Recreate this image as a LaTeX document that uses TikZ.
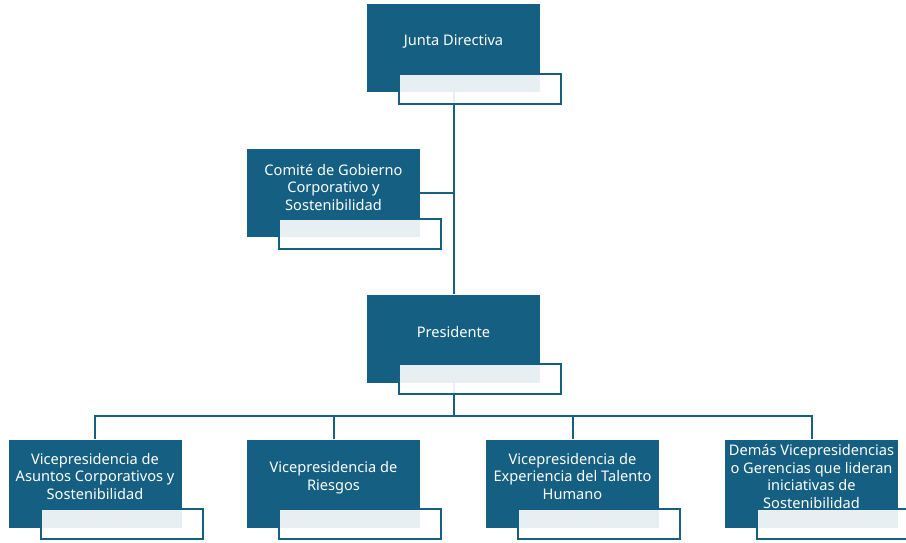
\documentclass[tikz,border=0pt]{standalone}
\usepackage{fontspec}
\setmainfont{Noto Sans}
\usepackage{tikz}
\definecolor{azul}{HTML}{156082}

\begin{document}
\begin{tikzpicture}[x=1pt,y=-1pt,
		caja/.style={fill=azul, minimum width=173pt, minimum height=88pt, inner sep=0pt},
		etiqueta/.style={draw=azul, line width=2pt, fill=white, fill opacity=0.9, minimum width=162pt, minimum height=30pt, inner sep=0pt},
		texto/.style={text=white, align=center, font=\fontsize{14.6}{17.5}\selectfont, inner sep=0pt},
		linea/.style={draw=azul, line width=2pt}]
		\clip (0,0) rectangle (906,542);
		\node[caja] (jd) at (453.5,48) {};
		\node[caja] (com) at (333.5,193) {};
		\node[caja] (pres) at (453.5,338.5) {};
		\node[caja] (vp1) at (95,483.5) {};
		\node[caja] (vp2) at (333.5,483.5) {};
		\node[caja] (vp3) at (572.5,483.5) {};
		\node[caja] (vp4) at (811.5,483.5) {};
		\coordinate (bus) at (453.5,416);
		\draw[linea] (jd.south) -- (pres.north);
		\draw[linea] (com.east) -- (com.east -| jd.south);
		\draw[linea] (pres.south) -- (bus);
		\draw[linea] (vp1.north) |- (bus) -| (vp4.north);
		\draw[linea] (vp2.north) -- (vp2.north |- bus);
		\draw[linea] (vp3.north) -- (vp3.north |- bus);
		\node[etiqueta] (jdE) at ([shift={(26.5,40.5)}]jd.center) {};
		\node[etiqueta] (comE) at ([shift={(26.5,40.5)}]com.center) {};
		\node[etiqueta] (presE) at ([shift={(26.5,40.5)}]pres.center) {};
		\node[etiqueta] (vp1E) at ([shift={(26.5,40.5)}]vp1.center) {};
		\node[etiqueta] (vp2E) at ([shift={(26.5,40.5)}]vp2.center) {};
		\node[etiqueta] (vp3E) at ([shift={(26.5,40.5)}]vp3.center) {};
		\node[etiqueta] (vp4E) at ([shift={(26.5,40.5)}]vp4.center) {};
		\node[texto] (jdT) at ([yshift=6pt]jd.center) {Junta Directiva};
		\node[texto] (comT) at ([yshift=6pt]com.center) {Comité de Gobierno\\Corporativo y\\Sostenibilidad};
		\node[texto] (presT) at ([yshift=6pt]pres.center) {Presidente};
		\node[texto] (vp1T) at ([yshift=7pt]vp1.center) {Vicepresidencia de\\Asuntos Corporativos y\\Sostenibilidad};
		\node[texto] (vp2T) at ([yshift=6pt]vp2.center) {Vicepresidencia de\\Riesgos};
		\node[texto] (vp3T) at ([yshift=7pt]vp3.center) {Vicepresidencia de\\Experiencia del Talento\\Humano};
		\node[texto] (vp4T) at ([yshift=7pt]vp4.center) {Demás Vicepresidencias\\o Gerencias que lideran\\iniciativas de\\Sostenibilidad};
\end{tikzpicture}
\end{document}
